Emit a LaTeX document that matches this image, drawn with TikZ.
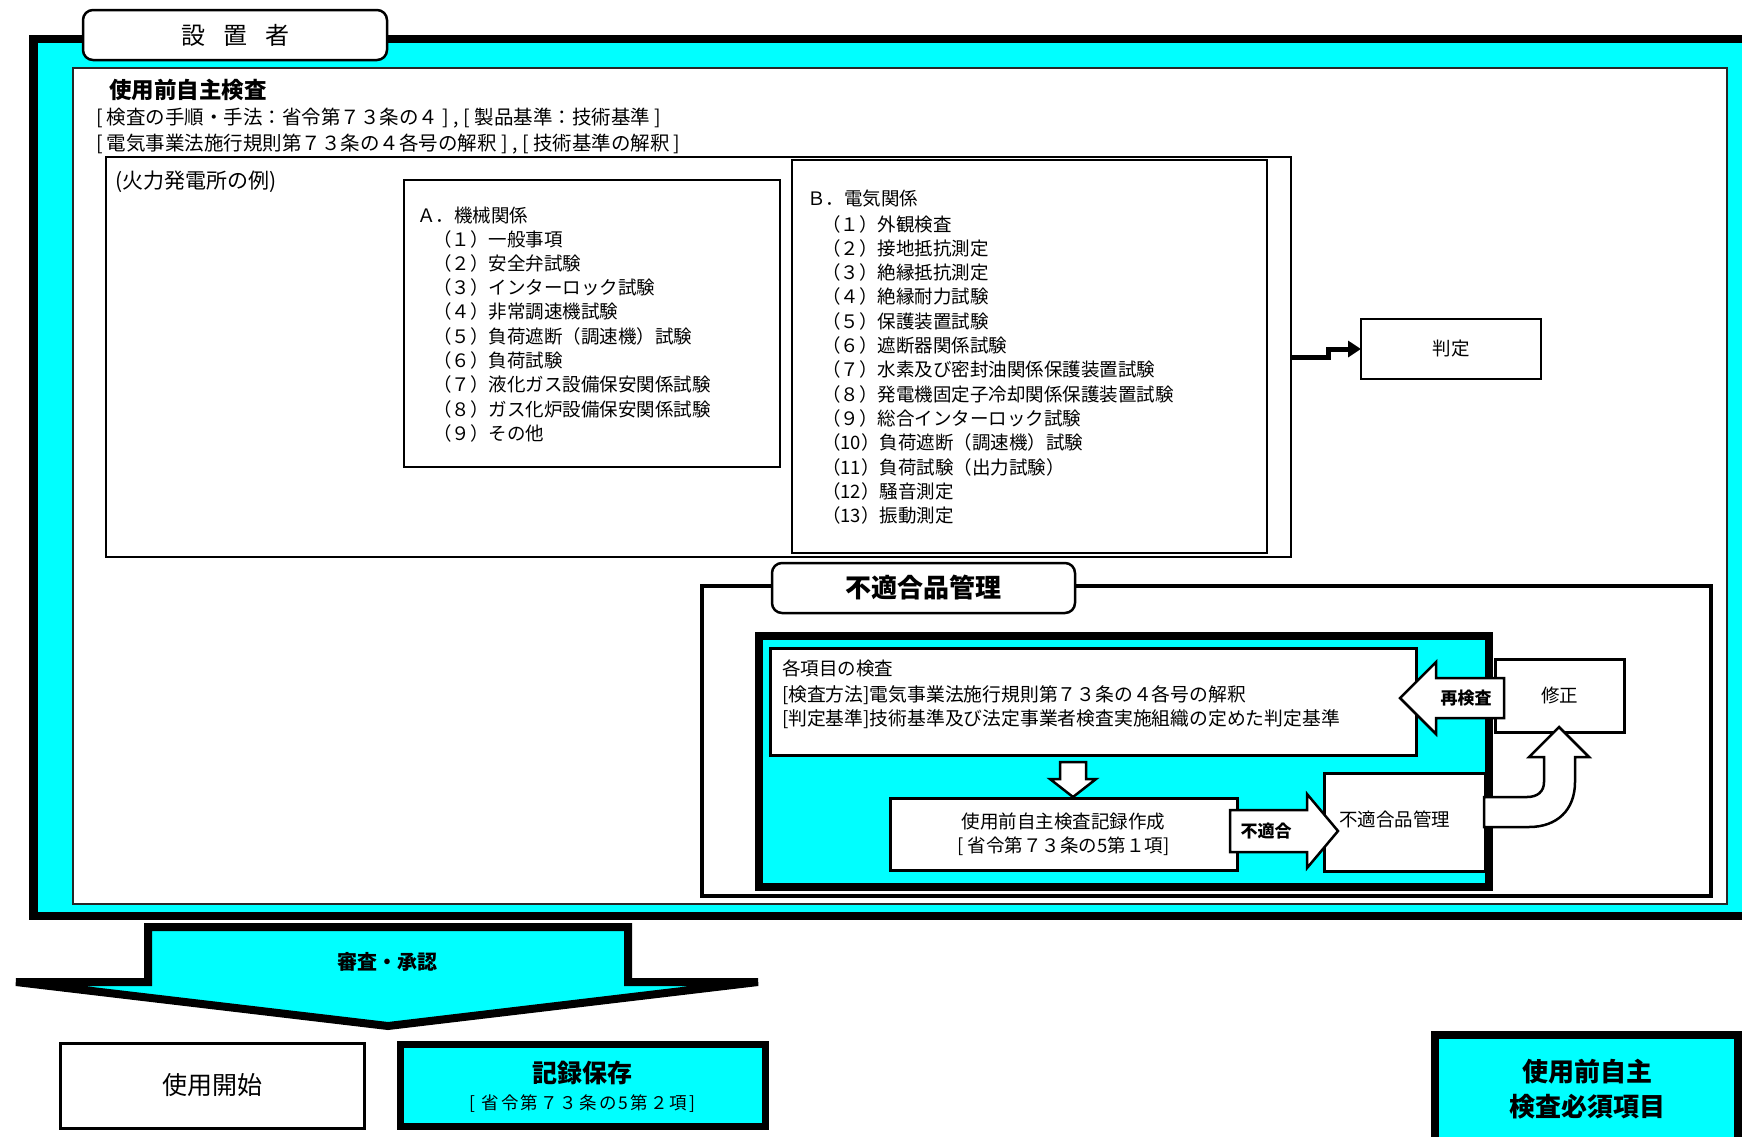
\documentclass[tikz,border=0pt]{standalone}
\usepackage{fontspec}
\setmainfont{Noto Sans CJK JP}
\usetikzlibrary{arrows.meta}
\definecolor{cy}{RGB}{0,255,255}
\newcommand\fsz[2]{\fontsize{#1}{#2}\selectfont}
\begin{document}
\begin{tikzpicture}[x=1pt,y=-1pt,
  every node/.style={inner sep=0pt,outer sep=0pt},
  wbox/.style={draw=black,fill=white,line width=2.5pt},
  thinbox/.style={draw=black,fill=white,line width=2pt},
  cybox/.style={draw=black,fill=cy,line width=8pt},
  tabbox/.style={draw=black,fill=white,line width=2.5pt,rounded corners=10pt},
  barrow/.style={draw=black,fill=white,line width=2.5pt,line join=miter},
  conn/.style={draw=black,line width=5pt,line join=miter,-{Triangle[length=13pt,width=16pt]}},
  txt/.style={font=\fsz{18.5}{22}},
  hdr/.style={font=\fsz{19.5}{22}},
  bld/.style={font=\fsz{17}{20}\bfseries}
]
\useasboundingbox (0,0) rectangle (1742,1136);
\clip (0,0) rectangle (1742,1136);

% outer frame
\draw[line width=8.5pt,fill=cy] (33.5,39) rectangle (1770,916);
\draw[line width=2.5pt,draw=black!85,fill=white] (73,68) rectangle (1727,904);
\node[tabbox,minimum width=304pt,minimum height=50pt,font=\fsz{24}{28}] (tab1) at (235,35) {設\hspace{18pt}置\hspace{18pt}者};

% header texts
\node[anchor=base west,font=\fsz{22.5}{26}\bfseries] (h1) at (109,98) {使用前自主検査};
\node[anchor=base west,hdr] (h2) at (96,124) {[ 検査の手順・手法：省令第７３条の４ ] , [ 製品基準：技術基準 ]};
\node[anchor=base west,hdr] (h3) at (96,150) {[ 電気事業法施行規則第７３条の４各号の解釈 ] , [ 技術基準の解釈 ]};

% example box
\node[thinbox,minimum width=1185pt,minimum height=400pt] (ex) at (698.5,357) {};
\node[anchor=base west,font=\fsz{21}{24}] (exl) at (115,188) {(火力発電所の例)};

% A box
\node[wbox,minimum width=376pt,minimum height=287pt] (A) at (592,323.5) {};
\node[anchor=base west,txt] (At) at (417,222) {Ａ．機械関係};
\foreach \t [count=\i] in {（１）一般事項,（２）安全弁試験,（３）インターロック試験,（４）非常調速機試験,（５）負荷遮断（調速機）試験,（６）負荷試験,（７）液化ガス設備保安関係試験,（８）ガス化炉設備保安関係試験,（９）その他}
  \node[anchor=base west,txt] (a\i) at (433,{246+(\i-1)*24.3}) {\t};

% B box
\node[wbox,minimum width=475pt,minimum height=393pt] (B) at (1029.5,356.5) {};
\node[anchor=base west,txt] (Bt) at (807,205) {Ｂ．電気関係};
\foreach \t [count=\i] in {（１）外観検査,（２）接地抵抗測定,（３）絶縁抵抗測定,（４）絶縁耐力試験,（５）保護装置試験,（６）遮断器関係試験,（７）水素及び密封油関係保護装置試験,（８）発電機固定子冷却関係保護装置試験,（９）総合インターロック試験,（10）負荷遮断（調速機）試験,（11）負荷試験（出力試験）,（12）騒音測定,（13）振動測定}
  \node[anchor=base west,txt] (b\i) at (822,{231+(\i-1)*24.3}) {\t};

% judgement
\node[thinbox,minimum width=180pt,minimum height=60pt,txt] (hantei) at (1451,349) {判定};
\draw[conn] (ex.east) -- ++(37,0) |- (hantei.west);

% non-conformance section
\node[draw=black,fill=white,line width=4pt,minimum width=1009pt,minimum height=310pt] (nf) at (1206.5,741) {};
\node[tabbox,minimum width=303pt,minimum height=50pt,font=\fsz{26}{30}\bfseries] (nftab) at (923.5,588) {不適合品管理};
\node[cybox,minimum width=730pt,minimum height=251pt] (cyb) at (1124,761.5) {};
\node[draw=black,fill=white,line width=3pt,minimum width=646pt,minimum height=107pt] (kaku) at (1093,701.5) {};
\node[anchor=base west,txt] (k1) at (782,675) {各項目の検査};
\node[anchor=base west,font=\fsz{18.8}{22}] (k2) at (782,701) {[検査方法]電気事業法施行規則第７３条の４各号の解釈};
\node[anchor=base west,font=\fsz{18.8}{22}] (k3) at (782,725) {[判定基準]技術基準及び法定事業者検査実施組織の定めた判定基準};

\node[draw=black,fill=white,line width=3pt,minimum width=347pt,minimum height=72pt,txt,align=center] (rec) at (1063.5,834) {使用前自主検査記録作成\\[2pt][ 省令第７３条の5第１項]};
\node[draw=black,fill=white,line width=3pt,minimum width=161pt,minimum height=98pt] (nfs) at (1404.5,822) {};
\node[anchor=west,txt] (nfst) at (1339,819) {不適合品管理};
\node[draw=black,fill=white,line width=3pt,minimum width=129pt,minimum height=73pt,txt] (shusei) at (1559.5,695.5) {修正};

% block arrows
\draw[barrow] (1060,762) -- (1086,762) -- (1086,779) -- (1096,779) -- (1073,797) -- (1050,779) -- (1060,779) -- cycle;
\draw[barrow] (1230,810) -- (1307,810) -- (1307,794) -- (1338,831) -- (1307,868) -- (1307,852) -- (1230,852) -- cycle;
\node[bld] (futeki) at (1266,831) {不適合};
\draw[barrow] (1504,678) -- (1436,678) -- (1436,662) -- (1400,698) -- (1436,734) -- (1436,718) -- (1504,718) -- cycle;
\node[bld] (saiken) at (1466,698) {再検査};
\draw[barrow] (1484,797) -- (1527,797) .. controls (1537,797) and (1544,792) .. (1544,782) -- (1544,757) -- (1529,757) -- (1559,727) -- (1589,757) -- (1575,757) -- (1575,782) .. controls (1575,810) and (1557,827) .. (1529,827) -- (1484,827) -- cycle;

% big review arrow
\draw[line width=8pt,fill=cy,line join=miter] (148,927) -- (628,927) -- (628,982) -- (758,982) -- (388,1026) -- (16,982) -- (148,982) -- cycle;
\node[font=\fsz{20}{24}\bfseries] (shinsa) at (387,962) {審査・承認};

% bottom boxes
\node[draw=black,fill=white,line width=3pt,minimum width=304pt,minimum height=85pt,font=\fsz{25}{28}] (start) at (212,1085.5) {使用開始};
\node[draw=black,fill=cy,line width=7pt,minimum width=365pt,minimum height=82pt] (kiroku) at (582.5,1085) {};
\node[font=\fsz{25}{28}\bfseries] (kir1) at (582.5,1073) {記録保存};
\node[font=\fsz{17.5}{20}\addfontfeature{LetterSpace=12}] (kir2) at (582.5,1104) {[ 省令第７３条の5第２項]};
\node[cybox,minimum width=303pt,minimum height=130pt] (hissu) at (1586.5,1100) {};
\node[font=\fsz{26}{30}\bfseries] (hs1) at (1587,1072) {使用前自主};
\node[font=\fsz{26}{30}\bfseries] (hs2) at (1587,1107) {検査必須項目};
\end{tikzpicture}
\end{document}
